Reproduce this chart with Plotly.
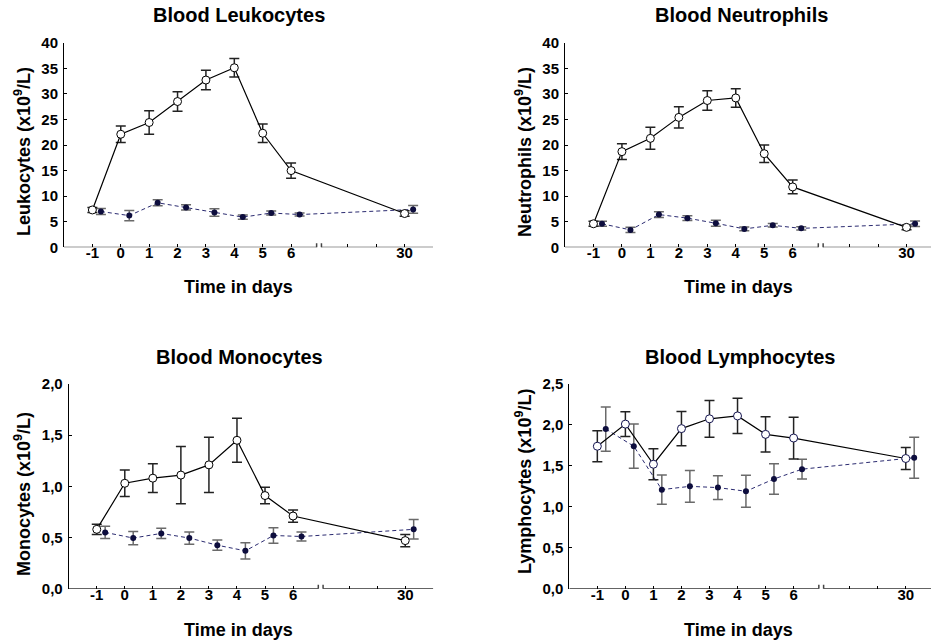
import plotly.graph_objects as go

# ---------------- data ----------------
DAYS = [-1, 0, 1, 2, 3, 4, 5, 6, 30]
DAY_LABELS = ["-1", "0", "1", "2", "3", "4", "5", "6", "30"]

leuko_open = [7.3, 22.1, 24.4, 28.5, 32.7, 35.1, 22.3, 15.0, 6.6]
leuko_open_err = [0.5, 1.6, 2.3, 1.9, 1.9, 1.8, 1.8, 1.5, 0.55]
leuko_filled = [7.0, 6.2, 8.7, 7.8, 6.8, 5.9, 6.7, 6.4, 7.4]
leuko_filled_err = [0.6, 1.0, 0.6, 0.5, 0.75, 0.4, 0.4, 0.3, 0.75]

neut_open = [4.6, 18.7, 21.3, 25.4, 28.7, 29.2, 18.3, 11.8, 3.9]
neut_open_err = [0.5, 1.55, 2.15, 2.1, 1.9, 1.8, 1.7, 1.35, 0.45]
neut_filled = [4.6, 3.4, 6.4, 5.7, 4.7, 3.6, 4.3, 3.7, 4.6]
neut_filled_err = [0.5, 0.5, 0.55, 0.45, 0.6, 0.35, 0.35, 0.3, 0.55]

mono_open = [0.58, 1.03, 1.08, 1.11, 1.21, 1.45, 0.91, 0.71, 0.47]
mono_open_err = [0.05, 0.13, 0.14, 0.28, 0.27, 0.215, 0.08, 0.06, 0.06]
mono_filled = [0.55, 0.495, 0.54, 0.495, 0.425, 0.37, 0.52, 0.51, 0.58]
mono_filled_err = [0.06, 0.065, 0.05, 0.06, 0.05, 0.08, 0.075, 0.045, 0.095]

lymph_open = [1.74, 2.01, 1.52, 1.955, 2.075, 2.11, 1.885, 1.84, 1.59]
lymph_open_err = [0.19, 0.15, 0.19, 0.21, 0.225, 0.215, 0.215, 0.255, 0.135]
lymph_filled = [1.95, 1.74, 1.21, 1.25, 1.235, 1.19, 1.34, 1.46, 1.60]
lymph_filled_err = [0.27, 0.27, 0.18, 0.195, 0.145, 0.195, 0.185, 0.12, 0.25]

TITLES = ["Blood Leukocytes", "Blood Neutrophils", "Blood Monocytes", "Blood Lymphocytes"]
XTITLE = "Time in days"
YTITLES = ["Leukocytes (x10<sup>9</sup>/L)", "Neutrophils (x10<sup>9</sup>/L)",
           "Monocytes (x10<sup>9</sup>/L)", "Lymphocytes (x10<sup>9</sup>/L)"]

# ---------------- layout geometry ----------------
W, H = 931, 642
FONT = "Arial, Liberation Sans, Helvetica, sans-serif"
OFFSET = 0.3          # horizontal offset of the second group
BREAK_AT = 6          # last day before the axis break
AFTER_BREAK = 10      # compressed position of day 30
MINOR_TICKS = [8, 9]  # unlabeled ticks after the break


def axis_pos(d):
    return d if d <= BREAK_AT else AFTER_BREAK


panels = [
    dict(data=(leuko_open, leuko_open_err, leuko_filled, leuko_filled_err),
         px=(64, 433), py=(42.7, 247.3), xr=(-2, 11), yr=(0, 40), dt=5, fmt="d",
         title=(239, 15), xt=(238, 287), yt=(22, 152), mk="#000000"),
    dict(data=(neut_open, neut_open_err, neut_filled, neut_filled_err),
         px=(565, 931), py=(42.7, 247.3), xr=(-2, 10.86), yr=(0, 40), dt=5, fmt="d",
         title=(741, 15), xt=(738, 287), yt=(523, 152), mk="#000000"),
    dict(data=(mono_open, mono_open_err, mono_filled, mono_filled_err),
         px=(68.7, 433.3), py=(384, 588.7), xr=(-2, 11), yr=(0, 2.0), dt=0.5, fmt=".1f",
         title=(239, 357), xt=(238, 630), yt=(22, 494), mk="#000000"),
    dict(data=(lymph_open, lymph_open_err, lymph_filled, lymph_filled_err),
         px=(569.3, 931), py=(384, 588.7), xr=(-2, 10.9), yr=(0, 2.5), dt=0.5, fmt=".1f",
         title=(739.5, 357), xt=(738, 630), yt=(523, 482), mk="#141450"),
]

fig = go.Figure()
layout = dict(template="none", width=W, height=H,
              margin=dict(l=0, r=0, t=0, b=0, pad=0, autoexpand=False),
              paper_bgcolor="white", plot_bgcolor="white", showlegend=False,
              separators=", ", font=dict(family=FONT, color="black"))
annotations = []
shapes = []

xs_open = [axis_pos(d) for d in DAYS]
xs_filled = [axis_pos(d) + OFFSET for d in DAYS]
x_tickvals = [axis_pos(d) for d in DAYS]

for i, p in enumerate(panels):
    n = "" if i == 0 else str(i + 1)
    xa, ya = "x" + n, "y" + n
    yo, yoe, yf, yfe = p["data"]

    fig.add_trace(go.Scatter(
        x=xs_filled, y=yf, xaxis=xa, yaxis=ya, mode="lines+markers",
        line=dict(color="#2b2b70", width=1, dash="4px,3px"),
        marker=dict(symbol="circle", size=6, color="#0d0d3d"),
        error_y=dict(type="data", array=yfe, visible=True, color="#6a6a6a",
                     thickness=1.5, width=5),
        hoverinfo="skip"))
    fig.add_trace(go.Scatter(
        x=xs_open, y=yo, xaxis=xa, yaxis=ya, mode="lines+markers",
        line=dict(color="black", width=1.2),
        marker=dict(symbol="circle", size=8, color="white",
                    line=dict(color=p["mk"], width=1)),
        error_y=dict(type="data", array=yoe, visible=True, color="#222222",
                     thickness=1.5, width=5),
        hoverinfo="skip"))

    x0, x1 = p["px"]
    yt_, yb_ = p["py"]
    layout["xaxis" + n] = dict(
        domain=[x0 / W, min(x1 / W, 1.0)], anchor=ya, range=list(p["xr"]),
        automargin=False, showline=False, zeroline=False, showgrid=False,
        tickmode="array", tickvals=x_tickvals, ticktext=DAY_LABELS,
        ticks="inside", ticklen=3, tickwidth=1, tickcolor="black",
        minor=dict(tickmode="array", tickvals=MINOR_TICKS, ticks="inside",
                   ticklen=3, tickwidth=1, tickcolor="black", showgrid=False),
        tickfont=dict(family=FONT, size=15, color="black", weight="bold"),
        ticklabelstandoff=-5)
    layout["yaxis" + n] = dict(
        domain=[1 - yb_ / H, 1 - yt_ / H], anchor=xa, range=list(p["yr"]),
        automargin=False, showline=True, linecolor="black", linewidth=1,
        zeroline=False, showgrid=False, dtick=p["dt"], tick0=0, tickformat=p["fmt"],
        ticks="inside", ticklen=3, tickwidth=1, tickcolor="black",
        tickfont=dict(family=FONT, size=15, color="black", weight="bold"),
        ticklabelstandoff=2)

    # x axis line with a break between day 6 and day 30
    brk_l, brk_r = BREAK_AT + 0.9, BREAK_AT + 1.07
    for a, b in [(p["xr"][0], brk_l), (brk_r, p["xr"][1])]:
        shapes.append(dict(type="line", xref=xa, yref=ya, x0=a, x1=b, y0=0, y1=0,
                           line=dict(color="black", width=1)))
    for bx in (brk_l, brk_r):
        shapes.append(dict(type="line", xref=xa, yref=ya, x0=bx, x1=bx,
                           ysizemode="pixel", yanchor=0, y0=-4, y1=4,
                           line=dict(color="#444444", width=1.5)))

    tx, ty = p["title"]
    annotations.append(dict(text="<b>" + TITLES[i] + "</b>", xref="paper", yref="paper",
                            x=tx / W, y=1 - ty / H, xanchor="center", yanchor="middle",
                            showarrow=False, font=dict(family=FONT, size=20, color="black")))
    tx, ty = p["xt"]
    annotations.append(dict(text="<b>" + XTITLE + "</b>", xref="paper", yref="paper",
                            x=tx / W, y=1 - ty / H, xanchor="center", yanchor="middle",
                            showarrow=False, font=dict(family=FONT, size=18, color="black")))
    tx, ty = p["yt"]
    annotations.append(dict(text="<b>" + YTITLES[i] + "</b>", xref="paper", yref="paper",
                            x=tx / W, y=1 - ty / H, xanchor="center", yanchor="middle",
                            textangle=-90, showarrow=False,
                            font=dict(family=FONT, size=18, color="black")))

layout["annotations"] = annotations
layout["shapes"] = shapes
fig.update_layout(**layout)

PAGE_FIX = (
    "document.documentElement.style.margin='0px';"
    "document.documentElement.style.overflow='hidden';"
    "document.body.style.margin='0px';"
    "document.body.style.overflow='hidden';"
    "var gd=document.getElementById('{plot_id}');"
    "gd.style.position='fixed';gd.style.left='0px';gd.style.top='0px';"
)
fig.write_html("out.html", config={"displayModeBar": False}, post_script=PAGE_FIX)
